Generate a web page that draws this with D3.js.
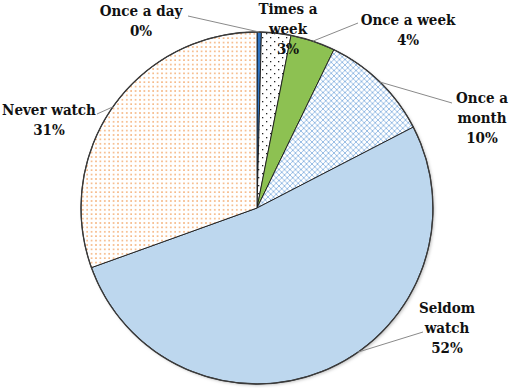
<!DOCTYPE html>
<html>
<head>
<meta charset="utf-8">
<script src="https://cdn.jsdelivr.net/npm/d3@7"></script>
<style>
  body { margin: 0; background: #fff; }
  svg { display: block; }
</style>
</head>
<body>
<div id="chart"></div>
<script>
const w = 512
const h = 388

// data, clockwise from 12 o'clock
const categories = ['Once a day', 'Times a week', 'Once a week', 'Once a month', 'Seldom watch', 'Never watch']
const values = [0.4, 2.7, 4.1, 10.2, 52.1, 30.5]
const labelLines = [['Once a day'], ['Times a', 'week'], ['Once a week'], ['Once a', 'month'], ['Seldom', 'watch'], ['Never watch']]

// look of each slice
const fills = ['#2e75c6', 'url(#dotsBlack)', '#8dc152', 'url(#crossBlue)', '#bdd7ee', 'url(#dotsOrange)']

// where each label sits (centre x, first baseline), leader end, and leader angle on the rim
const labelPos = [
  { x: 141, y: 16, lx: 188, ly: 16, ang: null },
  { x: 288, y: 14, lx: null, ly: null, ang: null },
  { x: 408, y: 25, lx: 358, ly: 23, ang: null },
  { x: 482, y: 103, lx: 452, ly: 103, ang: null },
  { x: 447, y: 313, lx: 423, ly: 332, ang: 145 },
  { x: 49, y: 115, lx: 97, ly: 114, ang: null }
]

const cx = 257, cy = 208, r = 176
const serif = '"DejaVu Serif Condensed", "DejaVu Serif", serif'

const svg = d3.select('#chart')
  .append('svg')
  .attr('width', w)
  .attr('height', h)

const defs = svg.append('defs')

const pBlack = defs.append('pattern')
  .attr('id', 'dotsBlack').attr('patternUnits', 'userSpaceOnUse')
  .attr('width', 8).attr('height', 8)
pBlack.append('rect').attr('width', 8).attr('height', 8).attr('fill', '#fff')
pBlack.append('rect').attr('x', 1).attr('y', 1).attr('width', 1.3).attr('height', 1.3).attr('fill', '#222')
pBlack.append('rect').attr('x', 5).attr('y', 5).attr('width', 1.3).attr('height', 1.3).attr('fill', '#222')

const pOrange = defs.append('pattern')
  .attr('id', 'dotsOrange').attr('patternUnits', 'userSpaceOnUse')
  .attr('width', 4.4).attr('height', 4.4)
pOrange.append('rect').attr('width', 4.4).attr('height', 4.4).attr('fill', '#fff')
pOrange.append('rect').attr('x', 1).attr('y', 1).attr('width', 1.6).attr('height', 1.6).attr('fill', '#f3a463').attr('opacity', 0.85)

const pCross = defs.append('pattern')
  .attr('id', 'crossBlue').attr('patternUnits', 'userSpaceOnUse')
  .attr('width', 5.5).attr('height', 5.5)
pCross.append('rect').attr('width', 5.5).attr('height', 5.5).attr('fill', '#fff')
pCross.append('path')
  .attr('d', 'M0,0L5.5,5.5M5.5,0L0,5.5')
  .attr('stroke', '#8fb8e2').attr('stroke-width', 0.9).attr('fill', 'none')

const shadow = defs.append('filter').attr('id', 'shadow')
  .attr('x', '-10%').attr('y', '-10%').attr('width', '120%').attr('height', '120%')
shadow.append('feDropShadow').attr('dx', 1.5).attr('dy', 1.5).attr('stdDeviation', 1.5)
  .attr('flood-color', '#000').attr('flood-opacity', 0.25)

const pie = d3.pie().sort(null).value(d => d)
const arcs = pie(values)
const arc = d3.arc().innerRadius(0).outerRadius(r)

const g = svg.append('g').attr('transform', `translate(${cx},${cy})`)

g.append('circle').attr('r', r).attr('fill', '#fff').attr('filter', 'url(#shadow)')

g.selectAll('path.slice')
  .data(arcs)
  .enter()
  .append('path')
  .attr('class', 'slice')
  .attr('d', arc)
  .attr('fill', (d, i) => fills[i])
  .attr('stroke', '#1a1a1a')
  .attr('stroke-width', 0.9)

g.append('circle').attr('r', r).attr('fill', 'none').attr('stroke', '#3a3a3a').attr('stroke-width', 1.3)

// leader lines
arcs.forEach((d, i) => {
  const p = labelPos[i]
  if (p.lx === null) return
  const a = p.ang !== null ? p.ang * Math.PI / 180 : (d.startAngle + d.endAngle) / 2
  const sx = cx + r * Math.sin(a)
  const sy = cy - r * Math.cos(a)
  svg.append('line')
    .attr('x1', sx).attr('y1', sy)
    .attr('x2', p.lx).attr('y2', p.ly)
    .attr('stroke', '#8a8a8a').attr('stroke-width', 1)
})

// labels
arcs.forEach((d, i) => {
  const p = labelPos[i]
  const lines = labelLines[i].concat([Math.round(values[i]) + '%'])
  const t = svg.append('text')
    .attr('font-family', serif)
    .attr('font-stretch', 'condensed')
    .attr('font-weight', 'bold')
    .attr('font-size', 15)
    .attr('fill', '#111')
    .attr('text-anchor', 'middle')
  lines.forEach((s, j) => {
    t.append('tspan').attr('x', p.x).attr('y', p.y + j * 19.8).text(s)
  })
})
</script>
</body>
</html>
